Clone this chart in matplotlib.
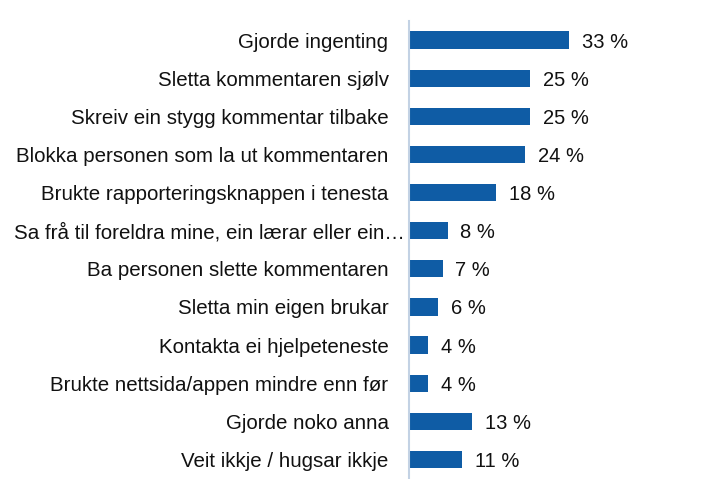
import matplotlib
matplotlib.use("Agg")
import matplotlib.pyplot as plt
import matplotlib.transforms as mtransforms

plt.rcParams['font.family'] = ['Liberation Sans', 'DejaVu Sans']

categories = [
    "Gjorde ingenting",
    "Sletta kommentaren sjølv",
    "Skreiv ein stygg kommentar tilbake",
    "Blokka personen som la ut kommentaren",
    "Brukte rapporteringsknappen i tenesta",
    "Sa frå til foreldra mine, ein lærar eller ein…",
    "Ba personen slette kommentaren",
    "Sletta min eigen brukar",
    "Kontakta ei hjelpeteneste",
    "Brukte nettsida/appen mindre enn før",
    "Gjorde noko anna",
    "Veit ikkje / hugsar ikkje",
]
values = [33, 25, 25, 24, 18, 8, 7, 6, 4, 4, 13, 11]

W, H = 707, 479
fig = plt.figure(figsize=(W / 100, H / 100), dpi=100)
ax = fig.add_axes([409 / W, 0.5 / H, 291 / W, 457.5 / H])

ypos = list(range(len(categories)))
ax.barh(ypos, values, height=0.45, color='#0F5CA5')
ax.set_ylim(len(categories) - 0.5, -0.5)
ax.set_xlim(0, 60)

txt_color = '#111111'
for y, v in zip(ypos, values):
    ax.annotate(f"{v} %", (v, y), xytext=(9, 0), textcoords='offset points',
                va='center_baseline', ha='left', fontsize=14.5, color=txt_color)

# category labels drawn as text so the long one can overflow like the original
lab_tr = mtransforms.blended_transform_factory(ax.transAxes, ax.transData)
lab_tr = lab_tr + mtransforms.ScaledTranslation(-20.5 / 100, 0, fig.dpi_scale_trans)
fig_tr = mtransforms.blended_transform_factory(fig.transFigure, ax.transData)
for y, lab in zip(ypos, categories):
    if lab.endswith("…"):
        ax.text(209 / W, y, lab, transform=fig_tr, ha='center', va='center_baseline',
                fontsize=14.8, color=txt_color)
    else:
        ax.text(0, y, lab, transform=lab_tr, ha='right', va='center_baseline',
                fontsize=14.8, color=txt_color)

ax.set_yticks([])
ax.set_xticks([])
for s in ['top', 'right', 'bottom']:
    ax.spines[s].set_visible(False)
ax.spines['left'].set_color('#C3D2E4')
ax.spines['left'].set_linewidth(1.5)

fig.savefig('out.png', dpi=100)
